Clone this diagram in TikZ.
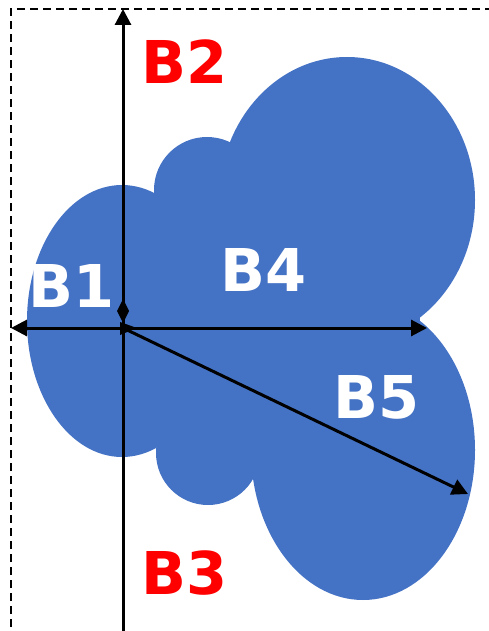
\documentclass[tikz,border=0pt]{standalone}
\usepackage{fontspec}
\setmainfont{DejaVu Sans}
\usetikzlibrary{arrows.meta}
\definecolor{blobblue}{HTML}{4472C4}
\definecolor{lblred}{HTML}{FF0000}
\tikzset{
  blob/.style={fill=blobblue, draw=none},
  axis/.style={line width=3pt, -{Triangle[length=16pt,width=16pt]}},
  frame/.style={line width=2pt, dash pattern=on 8pt off 5pt},
  redlbl/.style={text=lblred, font=\bfseries\fontsize{59}{59}\selectfont, inner sep=0pt},
  whitelbl/.style={text=white, font=\bfseries\fontsize{59}{59}\selectfont, inner sep=0pt}
}
\begin{document}
\begin{tikzpicture}[x=1pt,y=-1pt]
\useasboundingbox (0,0) rectangle (489,631);
% blue blob
\fill[blob] (122,321) ellipse [x radius=95, y radius=136];
\fill[blob] (207,190) circle [radius=53];
\fill[blob] (208,453) circle [radius=52];
\fill[blob] (347,200) ellipse [x radius=128, y radius=143];
\fill[blob] (363,450) ellipse [x radius=112, y radius=150];
\fill[blob] (160,200) rectangle (420,450);
% frame
\draw[frame] (11,640) -- (11,9) -- (500,9);
% coordinates
\coordinate (O) at (123,328);
\coordinate (top) at (123,9);
\coordinate (bot) at (123,640);
\coordinate (left) at (11,328);
\coordinate (right) at (427,328);
\coordinate (diag) at (468,494);
% axes
\draw[axis] (bot) -- (top);
\draw[axis] (O) -- (left);
\draw[axis] (O) -- (right);
\draw[axis] (O) -- (diag);
% small markers at origin
\fill (123,299) -- (129,311) -- (123,323) -- (117,311) -- cycle;
\fill (120,322) -- (137,328) -- (120,335) -- cycle;
% labels
\node[redlbl] (B2) at (185,62) {B2};
\node[redlbl] (B3) at (185,573) {B3};
\node[whitelbl] (B1) at (72,286) {B1};
\node[whitelbl] (B4) at (264,270) {B4};
\node[whitelbl] (B5) at (377,397) {B5};
\end{tikzpicture}
\end{document}
